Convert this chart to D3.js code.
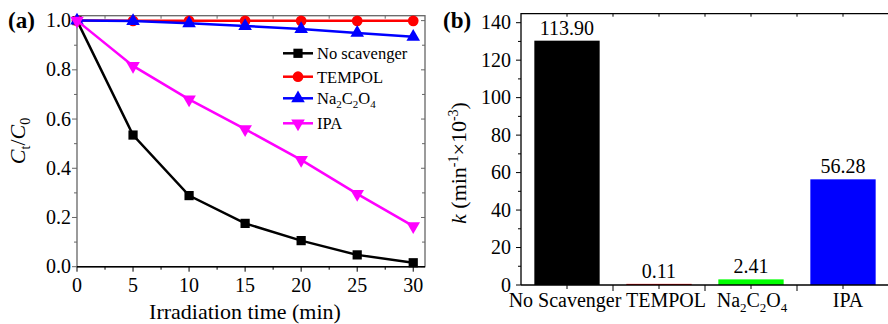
<!DOCTYPE html>
<html>
<head>
<meta charset="utf-8">
<script src="https://d3js.org/d3.v7.min.js"></script>
<style>
  body { margin: 0; background: #fff; }
  svg text { font-family: "Liberation Serif", "DejaVu Serif", serif; fill: #000; }
</style>
</head>
<body>
<script>
// ---- data: panel (a) ----
const times = [0, 5, 10, 15, 20, 25, 30];
const noScavenger = [1.0, 0.535, 0.289, 0.176, 0.106, 0.048, 0.016];
const tempol = [1.0, 0.999, 0.999, 0.999, 0.999, 0.999, 0.999];
const na2c2o4 = [1.0, 0.998, 0.989, 0.978, 0.966, 0.95, 0.934];
const ipa = [1.0, 0.816, 0.680, 0.559, 0.434, 0.296, 0.165];
const xTicksA = [0, 5, 10, 15, 20, 25, 30];
const yTicksA = [0, 0.2, 0.4, 0.6, 0.8, 1.0];

// ---- data: panel (b) ----
const scavengers = ["No Scavenger", "TEMPOL", "Na2C2O4", "IPA"];
const kBars = [130.4, 0.6, 3.0, 56.4];          // bar heights as drawn
const kLabels = ["113.90", "0.11", "2.41", "56.28"];
const barColors = ["#000000", "#ff0000", "#00ff00", "#0000ff"];
const yTicksB = [0, 20, 40, 60, 80, 100, 120, 140];

const FONT = "'Liberation Serif', 'DejaVu Serif', serif";
// category label nudges (px)
const labelShift = [-2, 7, 1, 5];

const svg = d3.select("body").append("svg")
    .attr("width", 888)
    .attr("height", 324)
    .attr("font-family", FONT)
    .style("font-family", FONT);

// ================= panel (a) =================
const xA = d3.scaleLinear().domain([0, 31.05]).range([77, 425]);
const yA = d3.scaleLinear().domain([0, 1.02]).range([266.7, 15.7]);

const gA = svg.append("g");

// frame
gA.append("rect")
    .attr("x", xA.range()[0]).attr("y", yA.range()[1])
    .attr("width", xA.range()[1] - xA.range()[0])
    .attr("height", yA.range()[0] - yA.range()[1])
    .attr("fill", "none").attr("stroke", "#666").attr("stroke-width", 1.3);

// ticks: inside top/right, outside bottom/left
const xMinorA = d3.range(0, 31, 2.5);
const yMinorA = d3.range(0, 1.01, 0.1);
gA.selectAll(".xt").data(xMinorA).join("line")
    .attr("x1", d => xA(d)).attr("x2", d => xA(d))
    .attr("y1", yA(0)).attr("y2", d => yA(0) + (d % 5 === 0 ? 5 : 3))
    .attr("stroke", "#000").attr("stroke-width", 1);
gA.selectAll(".xtt").data(xMinorA).join("line")
    .attr("x1", d => xA(d)).attr("x2", d => xA(d))
    .attr("y1", yA.range()[1]).attr("y2", d => yA.range()[1] + (d % 5 === 0 ? 4 : 3))
    .attr("stroke", "#666").attr("stroke-width", 1);
gA.selectAll(".yt").data(yMinorA).join("line")
    .attr("y1", d => yA(d)).attr("y2", d => yA(d))
    .attr("x1", xA(0)).attr("x2", (d, i) => xA(0) - (i % 2 === 0 ? 5 : 3))
    .attr("stroke", "#666").attr("stroke-width", 1);
gA.selectAll(".ytr").data(yMinorA).join("line")
    .attr("y1", d => yA(d)).attr("y2", d => yA(d))
    .attr("x1", xA.range()[1]).attr("x2", (d, i) => xA.range()[1] - (i % 2 === 0 ? 4 : 3))
    .attr("stroke", "#666").attr("stroke-width", 1);
// bottom axis line black
gA.append("line")
    .attr("x1", xA.range()[0]).attr("x2", xA.range()[1])
    .attr("y1", yA(0)).attr("y2", yA(0))
    .attr("stroke", "#000").attr("stroke-width", 1.4);

// tick labels
gA.selectAll(".xl").data(xTicksA).join("text")
    .attr("x", d => xA(d)).attr("y", 292)
    .attr("text-anchor", "middle").attr("font-size", 20)
    .text(d => d);
gA.selectAll(".yl").data(yTicksA).join("text")
    .attr("x", 71).attr("y", d => yA(d) + 6.5)
    .attr("text-anchor", "end").attr("font-size", 20)
    .text(d => d.toFixed(1));

// axis titles
gA.append("text")
    .attr("x", 245).attr("y", 319)
    .attr("text-anchor", "middle").attr("font-size", 22)
    .text("Irradiation time (min)");
const ytA = gA.append("text")
    .attr("transform", "translate(25,141) rotate(-90)")
    .attr("text-anchor", "middle").attr("font-size", 22);
ytA.append("tspan").attr("font-style", "italic").text("C");
ytA.append("tspan").attr("font-size", 14).attr("dy", 5).text("t");
ytA.append("tspan").attr("dy", -5).text("/");
ytA.append("tspan").attr("font-style", "italic").text("C");
ytA.append("tspan").attr("font-size", 14).attr("dy", 5).text("0");

// series
const series = [
  {name: "No scavenger", values: noScavenger, color: "#000000", symbol: d3.symbolSquare, size: 85, rot: 0},
  {name: "TEMPOL", values: tempol, color: "#ff0000", symbol: d3.symbolCircle, size: 90, rot: 0},
  {name: "Na2C2O4", values: na2c2o4, color: "#0000ff", symbol: d3.symbolTriangle, size: 80, rot: 0},
  {name: "IPA", values: ipa, color: "#ff00ff", symbol: d3.symbolTriangle, size: 80, rot: 180}
];

const line = d3.line().x(d => xA(d[0])).y(d => yA(d[1]));

series.forEach(s => {
  const pts = times.map((t, i) => [t, s.values[i]]);
  gA.append("path")
      .attr("d", line(pts))
      .attr("fill", "none").attr("stroke", s.color).attr("stroke-width", 2.5);
  gA.selectAll(null).data(pts).join("path")
      .attr("d", d3.symbol().type(s.symbol).size(s.size))
      .attr("transform", d => `translate(${xA(d[0])},${yA(d[1])}) rotate(${s.rot})`)
      .attr("fill", s.color);
});

// legend
const legendY = [53.3, 76.7, 98.3, 123.3];
series.forEach((s, i) => {
  const g = gA.append("g").attr("transform", `translate(283,${legendY[i]})`);
  g.append("line").attr("x1", 0).attr("x2", 30).attr("y1", 0).attr("y2", 0)
      .attr("stroke", s.color).attr("stroke-width", 2.5);
  g.append("path")
      .attr("d", d3.symbol().type(s.symbol).size(s.size))
      .attr("transform", `translate(15,0) rotate(${s.rot})`)
      .attr("fill", s.color);
  const t = g.append("text").attr("x", 34).attr("y", 6).attr("font-size", 16.5);
  if (s.name === "Na2C2O4") {
    t.append("tspan").text("Na");
    t.append("tspan").attr("font-size", 11).attr("dy", 4).text("2");
    t.append("tspan").attr("dy", -4).text("C");
    t.append("tspan").attr("font-size", 11).attr("dy", 4).text("2");
    t.append("tspan").attr("dy", -4).text("O");
    t.append("tspan").attr("font-size", 11).attr("dy", 4).text("4");
  } else {
    t.text(s.name);
  }
});

// panel label
svg.append("text").attr("x", 8).attr("y", 28)
    .attr("font-size", 23).attr("font-weight", "bold").text("(a)");

// ================= panel (b) =================
const xB = d3.scaleBand().domain(scavengers).range([521, 889]).paddingInner(0.29).paddingOuter(0.145);
const yB = d3.scaleLinear().domain([0, 144.8]).range([285, 13.7]);
const gB = svg.append("g");

// bars
gB.selectAll(".bar").data(scavengers).join("rect")
    .attr("x", d => xB(d))
    .attr("y", (d, i) => yB(kBars[i]))
    .attr("width", xB.bandwidth())
    .attr("height", (d, i) => yB(0) - yB(kBars[i]))
    .attr("fill", (d, i) => barColors[i]);

// value labels
gB.selectAll(".vl").data(scavengers).join("text")
    .attr("x", d => xB(d) + xB.bandwidth() / 2)
    .attr("y", (d, i) => yB(kBars[i]) - 6)
    .attr("text-anchor", "middle").attr("font-size", 20)
    .text((d, i) => kLabels[i]);

// frame
gB.append("path")
    .attr("d", `M${xB.range()[0]},${yB(0)}V${yB.range()[1]}H${xB.range()[1]}`)
    .attr("fill", "none").attr("stroke", "#000").attr("stroke-width", 1.3);
gB.append("line")
    .attr("x1", xB.range()[0]).attr("x2", xB.range()[1])
    .attr("y1", yB(0)).attr("y2", yB(0))
    .attr("stroke", "#000").attr("stroke-width", 1.4);

// y ticks
const yMinorB = d3.range(0, 141, 10);
gB.selectAll(".ytb").data(yMinorB).join("line")
    .attr("y1", d => yB(d)).attr("y2", d => yB(d))
    .attr("x1", xB.range()[0]).attr("x2", d => xB.range()[0] - (d % 20 === 0 ? 5 : 3))
    .attr("stroke", "#000").attr("stroke-width", 1);
gB.selectAll(".ylb").data(yTicksB).join("text")
    .attr("x", 511).attr("y", d => yB(d) + 6.5)
    .attr("text-anchor", "end").attr("font-size", 20)
    .text(d => d);

// x ticks: boundaries (major) and centers (minor)
const step = xB.step();
const bounds = scavengers.slice(1).map(d => xB(d) - step * xB.paddingInner() / 2);
const centers = scavengers.map(d => xB(d) + xB.bandwidth() / 2);
gB.selectAll(".xbm").data(bounds).join("line")
    .attr("x1", d => d).attr("x2", d => d)
    .attr("y1", yB(0)).attr("y2", yB(0) + 6)
    .attr("stroke", "#000").attr("stroke-width", 1);
gB.selectAll(".xbc").data(centers).join("line")
    .attr("x1", d => d).attr("x2", d => d)
    .attr("y1", yB(0)).attr("y2", yB(0) + 4)
    .attr("stroke", "#000").attr("stroke-width", 1);
gB.selectAll(".xbt").data(bounds.concat(centers)).join("line")
    .attr("x1", d => d).attr("x2", d => d)
    .attr("y1", yB.range()[1]).attr("y2", yB.range()[1] + 3)
    .attr("stroke", "#000").attr("stroke-width", 1);

// x labels
gB.selectAll(".xlb").data(scavengers).join("text")
    .attr("x", (d, i) => xB(d) + xB.bandwidth() / 2 + labelShift[i])
    .attr("y", 307)
    .attr("text-anchor", "middle").attr("font-size", 20)
    .each(function(d) {
      const t = d3.select(this);
      if (d === "Na2C2O4") {
        t.append("tspan").text("Na");
        t.append("tspan").attr("font-size", 13).attr("dy", 5).text("2");
        t.append("tspan").attr("dy", -5).text("C");
        t.append("tspan").attr("font-size", 13).attr("dy", 5).text("2");
        t.append("tspan").attr("dy", -5).text("O");
        t.append("tspan").attr("font-size", 13).attr("dy", 5).text("4");
      } else {
        t.text(d);
      }
    });

// y title
const ytB = gB.append("text")
    .attr("transform", "translate(466,163) rotate(-90)")
    .attr("text-anchor", "middle").attr("font-size", 22);
ytB.append("tspan").attr("font-style", "italic").text("k");
ytB.append("tspan").text(" (min");
ytB.append("tspan").attr("font-size", 14).attr("dy", -8).text("-1");
ytB.append("tspan").attr("dy", 8).text("×10");
ytB.append("tspan").attr("font-size", 14).attr("dy", -8).text("-3");
ytB.append("tspan").attr("dy", 8).text(")");

svg.append("text").attr("x", 443).attr("y", 28)
    .attr("font-size", 23).attr("font-weight", "bold").text("(b)");
</script>
</body>
</html>
